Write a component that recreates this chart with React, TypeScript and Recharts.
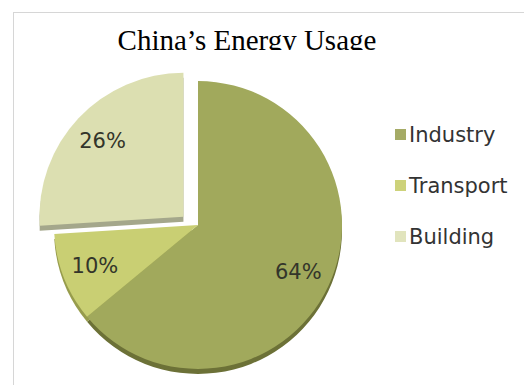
import { Legend, Pie, PieChart, Sector } from 'recharts';

// Energy usage shares
const sectors = ['Industry', 'Transport', 'Building'];
const shares = [64, 10, 26];

// Top face and darker "side" colours for the faux 3D look
const faceColors = ['#a1a95c', '#c9cf73', '#dcdfb1'];
const sideColors = ['#6c7137', '#979c4c', '#a4a78b'];
const legendColors = ['#a5ab66', '#cdd27a', '#e1e4bd'];

const EXPLODED = 'Building';
const EXPLODE_DIST = 20;
const TILT = 0.6; // vertical squash of the pull-out, like a tilted 3D pie
const RADIAN = Math.PI / 180;

const chartData = sectors.map((name, i) => ({ name, value: shares[i] }));

/**
 * Offset for the pulled-out slice, along its middle angle.
 */
function explodeOffset(name: string, midAngle: number) {
  if (name !== EXPLODED) return { dx: 0, dy: 0 };
  return {
    dx: EXPLODE_DIST * Math.cos(-midAngle * RADIAN),
    dy: EXPLODE_DIST * TILT * Math.sin(-midAngle * RADIAN),
  };
}

function makeShape(colors: string[]) {
  return (props: any) => {
    const name = props.name ?? props.payload?.name;
    const { dx, dy } = explodeOffset(name, props.midAngle);
    const idx = sectors.indexOf(name);
    return (
      <Sector
        cx={props.cx + dx}
        cy={props.cy + dy}
        innerRadius={0}
        outerRadius={props.outerRadius}
        startAngle={props.startAngle}
        endAngle={props.endAngle}
        fill={colors[idx]}
        stroke="none"
      />
    );
  };
}

function renderLabel(props: any) {
  const name = props.name ?? props.payload?.name;
  const { dx, dy } = explodeOffset(name, props.midAngle);
  const r = props.outerRadius * 0.77;
  const x = props.cx + dx + r * Math.cos(-props.midAngle * RADIAN);
  const y = props.cy + dy + r * Math.sin(-props.midAngle * RADIAN);
  return (
    <text
      x={x}
      y={y}
      textAnchor="middle"
      dominantBaseline="central"
      fill="#33352a"
      fontSize={21}
      fontFamily="'DejaVu Sans', Verdana, sans-serif"
    >
      {`${Math.round(props.percent * 100)}%`}
    </text>
  );
}

function renderLegend() {
  return (
    <div style={{ fontFamily: "'DejaVu Sans', Verdana, sans-serif" }}>
      {sectors.map((name, i) => (
        <div
          key={name}
          style={{ display: 'flex', alignItems: 'center', height: 51, fontSize: 21, color: '#333' }}
        >
          <span
            style={{
              display: 'inline-block',
              width: 11,
              height: 11,
              background: legendColors[i],
              marginRight: 3,
            }}
          />
          {name}
        </div>
      ))}
    </div>
  );
}

export default function App() {
  return (
    <div style={{ position: 'relative', width: 524, height: 377, overflow: 'hidden' }}>
      {/* light frame, open to the right and bottom */}
      <div
        style={{
          position: 'absolute',
          left: 5,
          top: 4,
          width: 560,
          height: 420,
          border: '1px solid #d6d6d6',
        }}
      />
      <PieChart width={524} height={377} style={{ position: 'absolute', left: 0, top: 0 }}>
        {/* side of the pie, peeking out below */}
        <Pie
          data={chartData}
          dataKey="value"
          nameKey="name"
          cx={185}
          cy={217}
          outerRadius={144}
          startAngle={90}
          endAngle={-270}
          stroke="none"
          legendType="none"
          shape={makeShape(sideColors)}
          isAnimationActive={false}
        />
        <Pie
          data={chartData}
          dataKey="value"
          nameKey="name"
          cx={185}
          cy={212}
          outerRadius={144}
          startAngle={90}
          endAngle={-270}
          stroke="none"
          labelLine={false}
          label={renderLabel}
          shape={makeShape(faceColors)}
          isAnimationActive={false}
        />
        <Legend
          content={renderLegend}
          wrapperStyle={{ position: 'absolute', left: 387, top: 101, width: 135 }}
        />
      </PieChart>
      {/* title, with its descenders cut off as in the source image */}
      <div
        style={{
          position: 'absolute',
          left: 39,
          top: 18,
          width: 400,
          height: 24,
          overflow: 'hidden',
          textAlign: 'center',
          fontFamily: "'Liberation Serif', 'Times New Roman', serif",
          fontSize: 29,
          lineHeight: '28px',
          color: '#000',
        }}
      >
        China’s Energy Usage
      </div>
    </div>
  );
}
